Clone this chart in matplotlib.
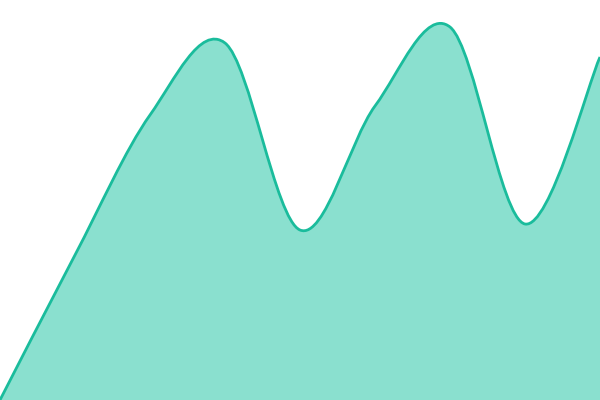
import matplotlib
matplotlib.use("Agg")
import matplotlib.pyplot as plt
from matplotlib.path import Path
from matplotlib.patches import PathPatch

x_vals = [0, 1, 2, 3, 4, 5, 6, 7, 8]
y_vals = [0, 145, 285, 357, 170, 294, 373, 176, 343]

line_color = "#1abc9c"
fill_color = "#8ae0cf"


def cardinal_path(xs, ys):
    pts = list(zip(xs, ys))
    n = len(pts)
    verts = [pts[0]]
    codes = [Path.MOVETO]
    for i in range(n - 1):
        p0 = pts[i - 1] if i > 0 else pts[i]
        p1 = pts[i]
        p2 = pts[i + 1]
        p3 = pts[i + 2] if i + 2 < n else pts[i + 1]
        c1 = (p1[0] + (p2[0] - p0[0]) / 6, p1[1] + (p2[1] - p0[1]) / 6)
        c2 = (p2[0] - (p3[0] - p1[0]) / 6, p2[1] - (p3[1] - p1[1]) / 6)
        verts += [c1, c2, p2]
        codes += [Path.CURVE4] * 3
    return verts, codes


fig = plt.figure(figsize=(6, 4), dpi=100)
ax = fig.add_axes([0, 0, 1, 1])
ax.set_xlim(x_vals[0], x_vals[-1])
ax.set_ylim(0, 400)
ax.axis("off")

verts, codes = cardinal_path(x_vals, y_vals)
fill_verts = verts + [(x_vals[-1], 0), (x_vals[0], 0), verts[0]]
fill_codes = codes + [Path.LINETO, Path.LINETO, Path.CLOSEPOLY]
ax.add_patch(PathPatch(Path(fill_verts, fill_codes), facecolor=fill_color,
                       edgecolor="none"))
ax.add_patch(PathPatch(Path(verts, codes), facecolor="none",
                       edgecolor=line_color, linewidth=2.0,
                       capstyle="butt", joinstyle="round"))

fig.savefig("out.png", dpi=100)
